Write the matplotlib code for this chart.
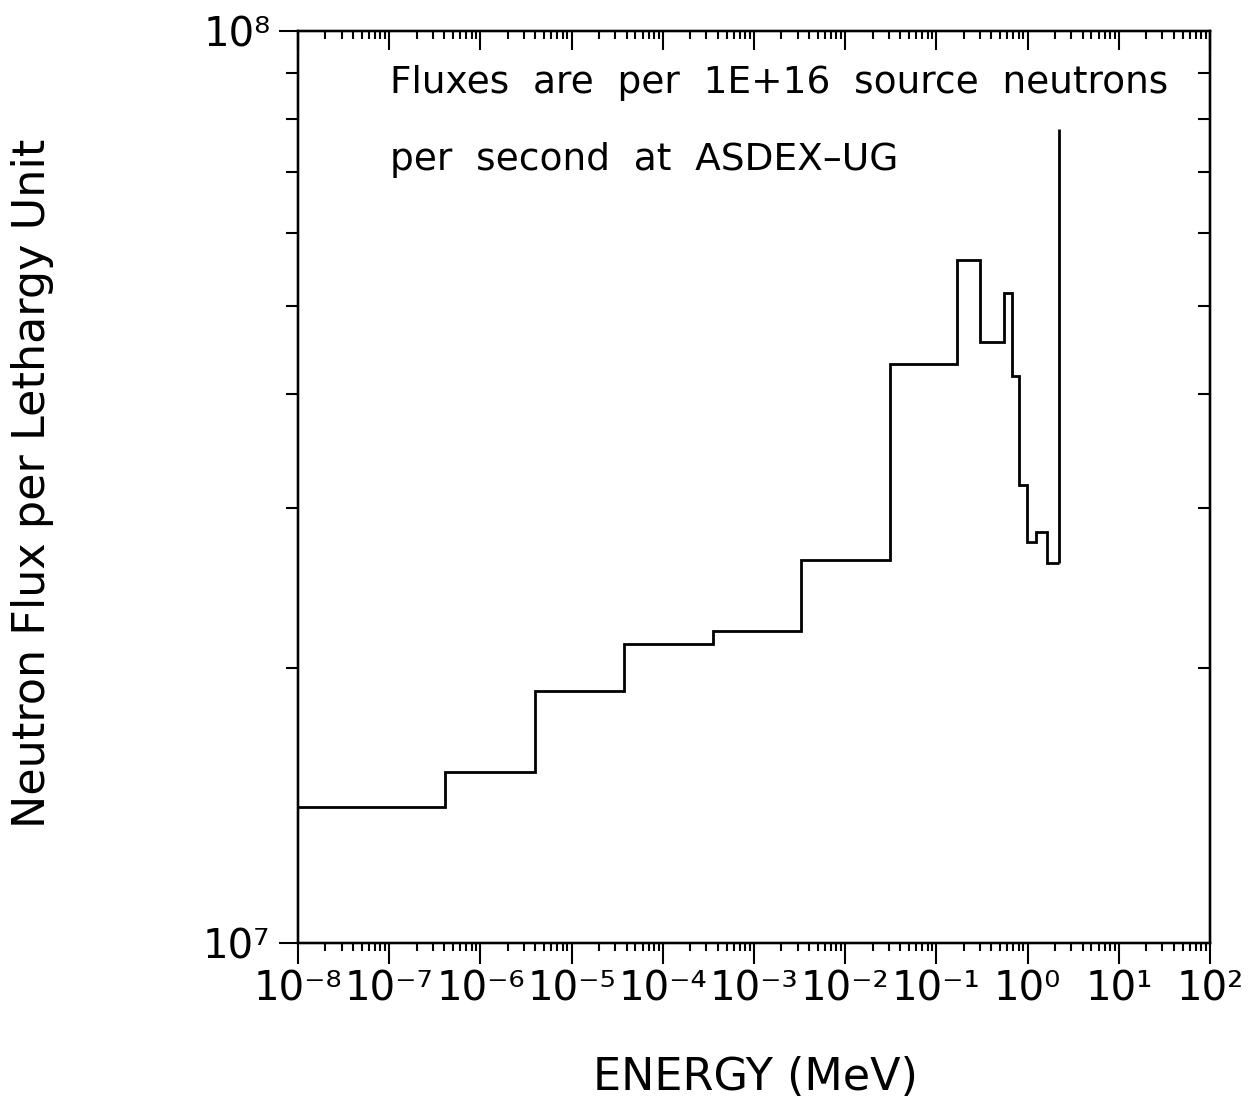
import matplotlib
matplotlib.use("Agg")
import matplotlib.pyplot as plt
import matplotlib.ticker as mticker

# ---------- Data ----------
# group boundaries in MeV and flux per lethargy in each group
energy_edges = [1e-8, 4.14e-7, 3.97e-6, 3.76e-5, 3.55e-4, 3.27e-3, 3.10e-2,
                0.168, 0.300, 0.55, 0.67, 0.805, 0.985, 1.24, 1.63, 2.21]
flux = [1.41e7, 1.54e7, 1.89e7, 2.13e7, 2.20e7, 2.63e7, 4.31e7,
        5.61e7, 4.56e7, 5.16e7, 4.19e7, 3.18e7, 2.75e7, 2.82e7, 2.61e7]
spike_energy = 2.21
spike_top = 7.8e7

x_ticks = [1e-8, 1e-7, 1e-6, 1e-5, 1e-4, 1e-3, 1e-2, 1e-1, 1e0, 1e1, 1e2]
x_ticklabels = ["10⁻⁸", "10⁻⁷", "10⁻⁶", "10⁻⁵", "10⁻⁴", "10⁻³", "10⁻²",
                "10⁻¹", "10⁰", "10¹", "10²"]
y_ticks = [1e7, 1e8]
y_ticklabels = ["10⁷", "10⁸"]

W, H = 1252, 1105
fig = plt.figure(figsize=(W / 100, H / 100), dpi=100)
fig.patch.set_facecolor("white")
ax = fig.add_axes([298 / W, 1 - 943 / H, 912 / W, 912 / H])

ax.stairs(flux, energy_edges, color="black", linewidth=2.0, baseline=None)
ax.vlines(spike_energy, flux[-1], spike_top, color="black", linewidth=2.0)

ax.set_xscale("log")
ax.set_yscale("log")
ax.set_xlim(1e-8, 1e2)
ax.set_ylim(1e7, 1e8)

# bottom / left: outward ticks with labels
ax.xaxis.set_major_locator(mticker.FixedLocator(x_ticks))
ax.xaxis.set_major_formatter(mticker.FixedFormatter(x_ticklabels))
ax.xaxis.set_minor_locator(mticker.LogLocator(base=10, subs=range(2, 10), numticks=20))
ax.xaxis.set_minor_formatter(mticker.NullFormatter())
ax.yaxis.set_major_locator(mticker.FixedLocator(y_ticks))
ax.yaxis.set_major_formatter(mticker.FixedFormatter(y_ticklabels))
ax.yaxis.set_minor_locator(mticker.LogLocator(base=10, subs=range(2, 10), numticks=20))
ax.yaxis.set_minor_formatter(mticker.NullFormatter())

ax.tick_params(axis="x", which="major", direction="out", length=15, width=1.5,
               labelsize=29, pad=4)
ax.tick_params(axis="x", which="minor", direction="out", length=6, width=1.5)
ax.tick_params(axis="y", which="major", direction="out", length=14, width=1.5,
               labelsize=29, pad=6)
ax.tick_params(axis="y", which="minor", direction="out", length=9, width=1.5)

# top / right: inward ticks, no labels
axt = ax.twiny()
axt.set_xscale("log")
axt.set_xlim(1e-8, 1e2)
axt.xaxis.set_major_locator(mticker.FixedLocator(x_ticks))
axt.xaxis.set_minor_locator(mticker.LogLocator(base=10, subs=range(2, 10), numticks=20))
axt.xaxis.set_major_formatter(mticker.NullFormatter())
axt.xaxis.set_minor_formatter(mticker.NullFormatter())
axt.tick_params(axis="x", which="major", direction="in", length=14, width=1.5)
axt.tick_params(axis="x", which="minor", direction="in", length=6, width=1.5)

axr = ax.twinx()
axr.set_yscale("log")
axr.set_ylim(1e7, 1e8)
axr.yaxis.set_major_locator(mticker.FixedLocator(y_ticks))
axr.yaxis.set_minor_locator(mticker.LogLocator(base=10, subs=range(2, 10), numticks=20))
axr.yaxis.set_major_formatter(mticker.NullFormatter())
axr.yaxis.set_minor_formatter(mticker.NullFormatter())
axr.tick_params(axis="y", which="major", direction="in", length=0)
axr.tick_params(axis="y", which="minor", direction="in", length=9, width=1.5)

for a in (ax, axt, axr):
    for s in a.spines.values():
        s.set_linewidth(1.6)

ax.text(0.101, 0.943, "Fluxes  are  per  1E+16  source  neutrons", transform=ax.transAxes,
        ha="left", va="center", fontsize=27, color="black")
ax.text(0.101, 0.859, "per  second  at  ASDEX\u2013UG", transform=ax.transAxes,
        ha="left", va="center", fontsize=27, color="black")

fig.text(755 / W, 1 - 1078 / H, "ENERGY (MeV)", ha="center", va="center",
         fontsize=32, color="black")
fig.text(33 / W, 1 - 483 / H, "Neutron Flux per Lethargy Unit", ha="center",
         va="center", rotation=90, fontsize=32, color="black")

fig.savefig("out.png", dpi=100, facecolor="white")
